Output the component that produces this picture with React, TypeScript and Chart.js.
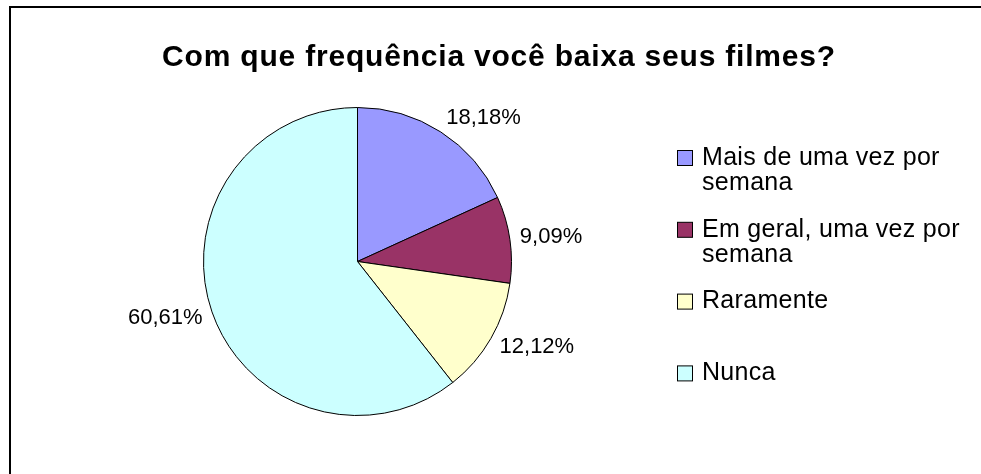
import React, { useEffect, useRef } from "react";
import { Chart, registerables } from "chart.js";

Chart.register(...registerables);

const TITLE = "Com que frequência você baixa seus filmes?";
const CATEGORIES: string[][] = [
  ["Mais de uma vez por", "semana"],
  ["Em geral, uma vez por", "semana"],
  ["Raramente"],
  ["Nunca"],
];
const SHARES = [18.18, 9.09, 12.12, 60.61];
const COLORS = ["#9999FF", "#993366", "#FFFFCC", "#CCFFFF"];

const FONT = '"Liberation Sans", Arial, sans-serif';

const fmt = (v: number) => v.toFixed(2).replace(".", ",") + "%";

const decorPlugin = {
  id: "decor",
  afterDraw(chart: any) {
    const ctx = chart.ctx as any;
    ctx.save();
    // outer frame: only the top and left edges are inside the picture
    ctx.fillStyle = "#000";
    ctx.fillRect(9, 6, 2, chart.height - 6);
    ctx.fillRect(9, 6, chart.width - 9, 2);

    // title
    ctx.fillStyle = "#000";
    ctx.font = `bold 30px ${FONT}`;
    ctx.letterSpacing = "0.8px";
    ctx.textAlign = "center";
    ctx.textBaseline = "middle";
    ctx.fillText(TITLE, 499, 58);
    ctx.letterSpacing = "0px";

    // data labels
    const meta = chart.getDatasetMeta(0);
    ctx.font = `22px ${FONT}`;
    meta.data.forEach((arc: any, i: number) => {
      const p = arc.getProps(["x", "y", "startAngle", "endAngle", "outerRadius"], true);
      const mid = (p.startAngle + p.endAngle) / 2;
      const c = Math.cos(mid);
      const s = Math.sin(mid);
      const r = p.outerRadius + 10;
      const ax = p.x + r * c;
      const ay = p.y + r * s + s * 7;
      ctx.textAlign = c >= 0 ? "left" : "right";
      ctx.textBaseline = "middle";
      ctx.fillText(fmt(SHARES[i]), ax, ay);
    });

    // legend
    const items = chart.data.labels as string[][];
    const colors = chart.data.datasets[0].backgroundColor as string[];
    items.forEach((lines, i) => {
      const cy = 158 + i * 71.8;
      ctx.fillStyle = colors[i];
      ctx.fillRect(677.5, cy - 7.5, 15, 15);
      ctx.strokeStyle = "#000";
      ctx.lineWidth = 1;
      ctx.strokeRect(677.5, cy - 7.5, 15, 15);
      ctx.fillStyle = "#000";
      ctx.font = `25px ${FONT}`;
      ctx.letterSpacing = "0.3px";
      ctx.textAlign = "left";
      ctx.textBaseline = "middle";
      lines.forEach((ln, j) => ctx.fillText(ln, 702, cy + j * 25));
      ctx.letterSpacing = "0px";
    });
    ctx.restore();
  },
};

export default function App() {
  const ref = useRef<HTMLCanvasElement | null>(null);
  useEffect(() => {
    if (!ref.current) return;
    const chart = new Chart(ref.current, {
      type: "pie",
      data: {
        labels: CATEGORIES as any,
        datasets: [
          {
            data: SHARES,
            backgroundColor: COLORS,
            borderColor: "#000",
            borderWidth: 1,
          },
        ],
      },
      options: {
        animation: false,
        responsive: true,
        maintainAspectRatio: false,
        layout: { padding: { left: 203, right: 469, top: 107, bottom: 58 } },
        plugins: {
          legend: { display: false },
          title: { display: false },
          tooltip: { enabled: false },
        },
      },
      plugins: [decorPlugin],
    });
    return () => chart.destroy();
  }, []);
  return (
    <div style={{ position: "absolute", left: 0, top: 0, width: 981, height: 474, background: "#fff" }}>
      <canvas ref={ref} />
    </div>
  );
}
